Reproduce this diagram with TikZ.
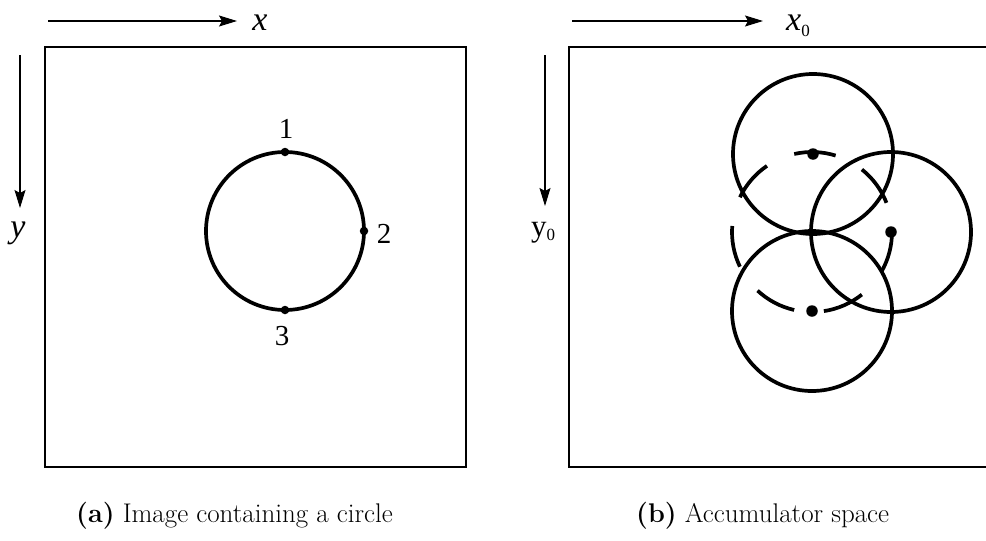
\documentclass[tikz,border=0pt]{standalone}
\usepackage{fontspec}
\newfontfamily\tms{Liberation Serif}
\usetikzlibrary{arrows.meta}
\begin{document}
\begin{tikzpicture}[x=1pt,y=-1pt,
  frame/.style={line width=2pt},
  axis/.style={line width=1.1pt,-{Stealth[length=18pt,width=11pt,inset=3pt]}},
  ring/.style={line width=3.7pt},
  lbl/.style={font=\tms\fontsize{34}{38}\selectfont, inner sep=0},
  num/.style={font=\tms\fontsize{29}{32}\selectfont, inner sep=0},
  dotsm/.style={circle, fill, inner sep=0, minimum size=8.5pt},
  dotbig/.style={circle, fill, inner sep=0, minimum size=11.5pt},
  captxt/.style={font=\fontsize{27}{30}\selectfont, inner sep=0, anchor=base west}]
\useasboundingbox (0,0) rectangle (986,541);

% ---------- left panel ----------
\draw[frame] (45,47) rectangle (466,467);
\coordinate (xa0) at (48,21);
\coordinate (xa1) at (237,21);
\draw[axis] (xa0) -- (xa1);
\node[lbl, anchor=base] (xlab) at (260,30) {\textit{x}};
\coordinate (ya0) at (20,55);
\coordinate (ya1) at (20,208);
\draw[axis] (ya0) -- (ya1);
\node[lbl, anchor=base] (ylab) at (18,237) {\textit{y}};

\coordinate (c) at (285,231);
\draw[ring] (c) circle[radius=79];
\node[dotsm] (p1) at (285,152) {};
\node[dotsm] (p2) at (364,231) {};
\node[dotsm] (p3) at (285,310) {};
\node[num, anchor=base] (n1) at (286,138) {1};
\node[num, anchor=base] (n2) at (384,243) {2};
\node[num, anchor=base] (n3) at (282,345) {3};

% ---------- right panel ----------
\draw[frame] (986,47) -- (569,47) -- (569,467) -- (986,467);
\coordinate (xb0) at (572,21);
\coordinate (xb1) at (763,21);
\draw[axis] (xb0) -- (xb1);
\node[lbl, anchor=base west] (x0lab) at (786,30) {\textit{x}\raisebox{-0.2em}{\fontsize{17}{18}\selectfont 0}};
\coordinate (yb0) at (545,55);
\coordinate (yb1) at (545,206);
\draw[axis] (yb0) -- (yb1);
\node[lbl, anchor=base west, font=\tms\fontsize{31}{34}\selectfont] (y0lab) at (531,236) {y\raisebox{-0.15em}{\fontsize{17}{18}\selectfont 0}};

\coordinate (acc) at (812,232);
\coordinate (q1) at (813,154);
\coordinate (q2) at (891,232);
\coordinate (q3) at (812,311);
\draw[ring] (q1) circle[radius=80];
\draw[ring] (q2) circle[radius=80];
\draw[ring] (q3) circle[radius=80];
\node[dotbig] (d1) at (q1) {};
\node[dotbig] (d2) at (q2) {};
\node[dotbig] (d3) at (q3) {};
\foreach \k in {0,...,6}{
  \draw[ring] ([shift={(-21.4-51.43*\k:80)}]acc) arc[start angle=-21.4-51.43*\k, end angle=-51.4-51.43*\k, radius=80];
}

% ---------- captions ----------
\node[captxt] (capa) at (76,522) {\textbf{(a)} Image containing a circle};
\node[captxt] (capb) at (636,522) {\textbf{(b)} Accumulator space};
\end{tikzpicture}
\end{document}
